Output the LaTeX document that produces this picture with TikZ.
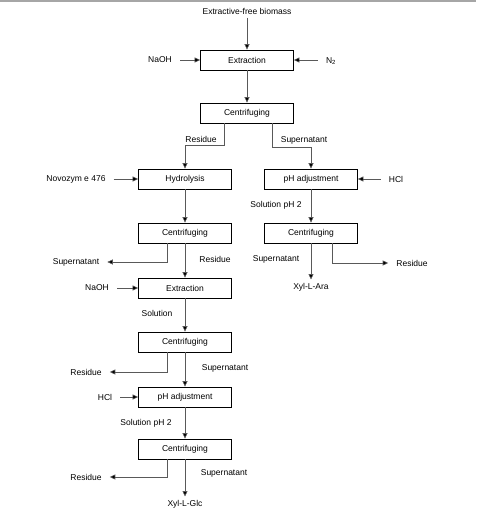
\documentclass[tikz,border=0pt]{standalone}
\usepackage{fontspec}
\setmainfont{Liberation Sans}
\usetikzlibrary{arrows.meta}

\begin{document}
\begin{tikzpicture}[x=1pt,y=-1pt, font=\fontsize{8.5}{10}\selectfont,
  box/.style={draw, line width=0.8pt, minimum width=93pt, minimum height=20pt, inner sep=0pt},
  feed/.style={inner xsep=8pt, inner ysep=2pt},
  tag/.style={inner sep=0pt},
  flow/.style={draw=black!65, line width=0.6pt, -{Triangle[length=5.5pt,width=5pt,fill=black]}}]

\useasboundingbox (0,0) rectangle (476,516);
\draw[gray!70, line width=1.6pt] (0,0.8) -- (476,0.8);

% ===== Alkaline extraction =====
\node (bio) at (247,11) {Extractive-free biomass};
\node[box] (ext1) at (247,60) {Extraction};
\node[feed] (naoh1) at (160,60) {NaOH};
\node[feed] (n2) at (331,61) {N\textsubscript{2}};
\node[box] (cen1) at (247,113) {Centrifuging};

\draw[flow] (bio) -- (ext1);
\draw[flow] (naoh1) -- (ext1);
\draw[flow] (n2.west |- ext1) -- (ext1);
\draw[flow] (ext1) -- (cen1);

% ===== Supernatant branch: Xyl-L-Ara =====
\node[box] (phr) at (311,179) {pH adjustment};
\node[feed] (hclr) at (396,179) {HCl};
\node[box] (cenr) at (311,233) {Centrifuging};
\node (xara) at (311,287) {Xyl-L-Ara};
\node[feed] (resr) at (412,263) {Residue};
\node[tag] at (304,140) {Supernatant};
\node[tag] at (276,205) {Solution pH 2};
\node[tag] at (276,259) {Supernatant};

\draw[flow] ([xshift=25pt]cen1.south) -- ++(0,24) -| (phr);
\draw[flow] (hclr) -- (phr);
\draw[flow] (phr) -- (cenr);
\draw[flow] (cenr) -- (xara);
\draw[flow] ([xshift=21pt]cenr.south) |- (resr);

% ===== Residue branch: Xyl-L-Glc =====
\node[box] (hyd) at (185,179) {Hydrolysis};
\node[feed] (novo) at (76,179) {Novozym e 476};
\node[box] (cen2) at (185,233) {Centrifuging};
\node[feed] (sup2) at (76,262) {Supernatant};
\node[tag] at (201,139) {Residue};
\node[tag] at (215,259) {Residue};

\draw[flow] ([xshift=-23pt]cen1.south) -- ++(0,22) -| (hyd);
\draw[flow] (novo) -- (hyd);
\draw[flow] (hyd) -- (cen2);
\draw[flow] ([xshift=-18pt]cen2.south) |- (sup2);

\node[box] (ext2) at (185,288) {Extraction};
\node[feed] (naoh2) at (97,288) {NaOH};
\node[box] (cen3) at (185,342) {Centrifuging};
\node[feed] (res3) at (86,372) {Residue};
\node[tag] at (157,313) {Solution};
\node[tag] at (225,368) {Supernatant};

\draw[flow] (cen2) -- (ext2);
\draw[flow] (naoh2) -- (ext2);
\draw[flow] (ext2) -- (cen3);
\draw[flow] ([xshift=-18pt]cen3.south) |- (res3);

\node[box] (ph2) at (185,397) {pH adjustment};
\node[feed] (hcl2) at (105,397) {HCl};
\node[box] (cen4) at (185,449) {Centrifuging};
\node[feed] (res4) at (86,477) {Residue};
\node (xglc) at (185,504) {Xyl-L-Glc};
\node[tag] at (146,423) {Solution pH 2};
\node[tag] at (224,473) {Supernatant};

\draw[flow] (cen3) -- (ph2);
\draw[flow] (hcl2) -- (ph2);
\draw[flow] (ph2) -- (cen4);
\draw[flow] ([xshift=-18pt]cen4.south) |- (res4);
\draw[flow] (cen4) -- (xglc);

\end{tikzpicture}
\end{document}
